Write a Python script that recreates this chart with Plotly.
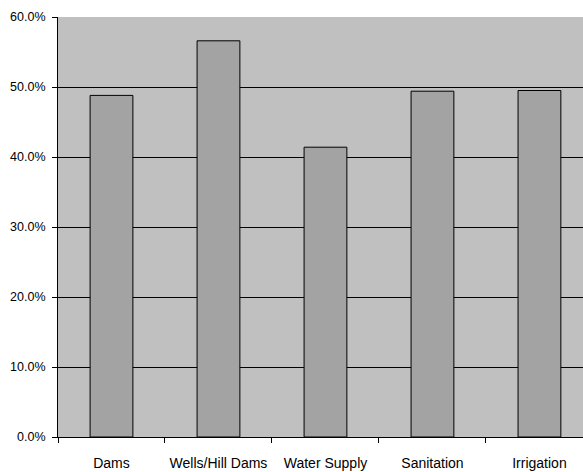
import plotly.graph_objects as go

categories = ["Dams", "Wells/Hill Dams", "Water Supply", "Sanitation", "Irrigation"]
shares = [48.8, 56.6, 41.4, 49.4, 49.5]
y_ticks = [0, 10, 20, 30, 40, 50, 60]
y_tick_labels = ["0.0%", "10.0%", "20.0%", "30.0%", "40.0%", "50.0%", "60.0%"]

font_family = "Liberation Sans, Arial, sans-serif"

fig = go.Figure(
    go.Bar(
        x=categories,
        y=shares,
        width=0.4,
        marker=dict(color="#a3a3a3", line=dict(color="#000000", width=1)),
        hoverinfo="skip",
    )
)

fig.update_layout(
    width=583,
    height=472,
    margin=dict(l=58, r=0, t=17, b=35, pad=0),
    paper_bgcolor="#ffffff",
    plot_bgcolor="#c0c0c0",
    showlegend=False,
    font=dict(family=font_family, size=12, color="#000000"),
)

fig.update_xaxes(
    range=[-0.5, 4.407],
    showline=True,
    linecolor="#000000",
    linewidth=1,
    ticks="outside",
    tickson="boundaries",
    ticklen=5,
    tickcolor="#000000",
    tickwidth=1,
    showgrid=False,
    ticklabelstandoff=13,
    tickfont=dict(family=font_family, size=14),
)

fig.update_yaxes(
    range=[0, 60],
    tickvals=y_ticks,
    ticktext=y_tick_labels,
    showline=True,
    linecolor="#000000",
    linewidth=1,
    ticks="outside",
    ticklen=5,
    tickcolor="#000000",
    tickwidth=1,
    showgrid=True,
    gridcolor="#000000",
    gridwidth=1,
    zeroline=False,
    ticklabelstandoff=4,
    tickfont=dict(family=font_family, size=12.5),
)

fig.write_html("out.html")
